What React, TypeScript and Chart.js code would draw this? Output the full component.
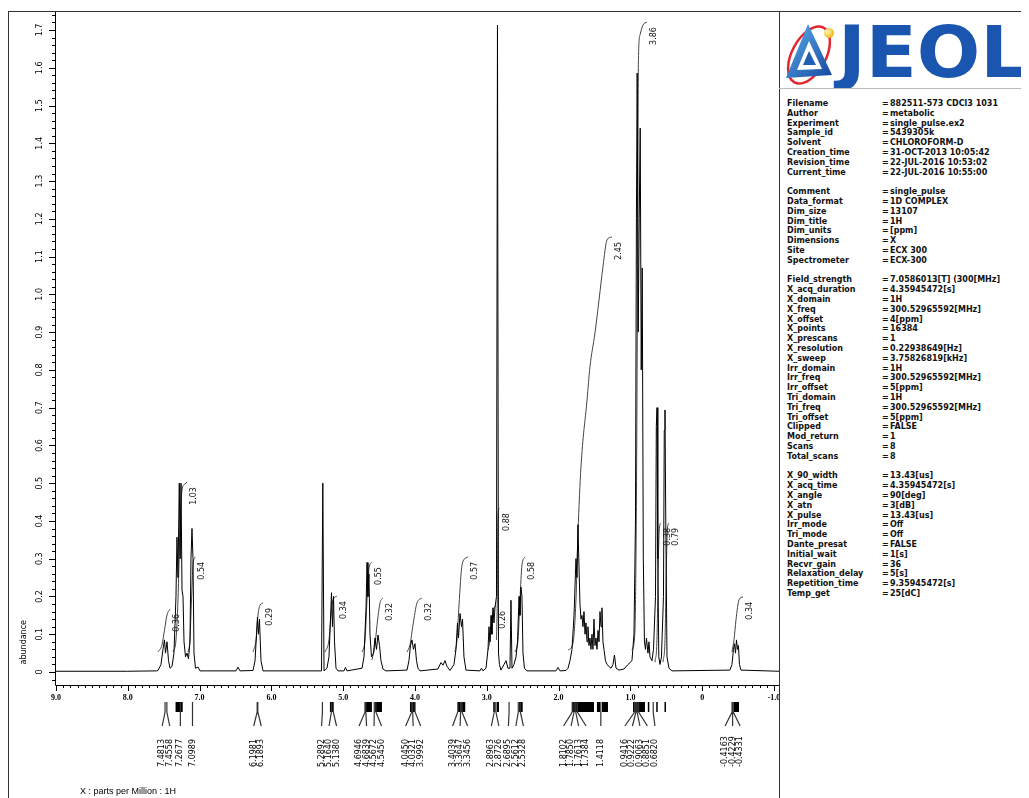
import React, { useEffect, useRef } from 'react';
import { Chart, registerables } from 'chart.js';

Chart.register(...registerables);

// ---------- axis ticks ----------
const xTickValues = [9, 8, 7, 6, 5, 4, 3, 2, 1, 0, -1];
const xTickLabels = ['9.0', '8.0', '7.0', '6.0', '5.0', '4.0', '3.0', '2.0', '1.0', '0', '-1.0'];
const yTickValues = [0, 0.1, 0.2, 0.3, 0.4, 0.5, 0.6, 0.7, 0.8, 0.9, 1.0, 1.1, 1.2, 1.3, 1.4, 1.5, 1.6, 1.7];
const yTickLabels = ['0', '0.1', '0.2', '0.3', '0.4', '0.5', '0.6', '0.7', '0.8', '0.9', '1.0', '1.1', '1.2', '1.3', '1.4', '1.5', '1.6', '1.7'];

// ---------- spectrum (ppm, abundance) ----------
const spectrumPpm = [
  9.01, 8.0, 7.6, 7.579, 7.538, 7.51, 7.489, 7.475, 7.454, 7.433, 7.412, 7.384, 7.357, 7.329, 7.315, 7.301, 7.283, 7.27, 7.259, 7.245, 7.231, 7.217, 7.196, 7.175, 7.155, 7.134, 7.12, 7.106, 7.092, 7.078, 7.057, 7.022, 6.994,
  6.493, 6.465, 6.437, 6.256, 6.228, 6.207, 6.194, 6.18, 6.166, 6.145, 6.117,
  5.302, 5.284, 5.267, 5.226, 5.198, 5.177, 5.163, 5.149, 5.135, 5.121, 5.1, 5.072, 4.989, 4.968, 4.947,
  4.738, 4.71, 4.682, 4.668, 4.655, 4.641, 4.627, 4.606, 4.578, 4.557, 4.536, 4.515, 4.494, 4.474, 4.446, 4.404,
  4.111, 4.084, 4.063, 4.042, 4.021, 4.0, 3.979, 3.958, 3.93,
  3.68, 3.638, 3.61, 3.582, 3.554, 3.512, 3.457, 3.429, 3.408, 3.394, 3.373, 3.352, 3.338, 3.318, 3.29,
  3.095, 3.074, 3.053, 3.011, 2.983, 2.969, 2.955, 2.941, 2.928, 2.914, 2.9, 2.886, 2.865, 2.851, 2.837, 2.824, 2.803,
  2.76, 2.732, 2.705, 2.677, 2.663, 2.649, 2.621, 2.593, 2.572, 2.551, 2.538, 2.524, 2.51, 2.496, 2.475, 2.44,
  2.036, 2.008, 1.98, 1.897, 1.869, 1.841, 1.813, 1.785, 1.758, 1.744, 1.73, 1.716, 1.702, 1.688, 1.674, 1.66, 1.646, 1.632, 1.618, 1.604, 1.591, 1.577, 1.563, 1.549, 1.535, 1.521, 1.507, 1.493, 1.479, 1.465, 1.451, 1.437, 1.423, 1.409, 1.396, 1.382, 1.368, 1.347, 1.326, 1.298, 1.27, 1.242, 1.222, 1.2, 1.158, 1.089, 1.033,
  0.978, 0.95, 0.929, 0.916, 0.905, 0.891, 0.877, 0.863, 0.849, 0.835, 0.82, 0.804, 0.79, 0.776, 0.755, 0.741, 0.727, 0.699, 0.678,
  0.65, 0.639, 0.629, 0.618, 0.604, 0.588, 0.567, 0.539, 0.528, 0.518, 0.507, 0.49, 0.462, 0.421,
  -0.387, -0.415, -0.436, -0.45, -0.464, -0.478, -0.492, -0.505, -0.519, -0.54, -1.07,
];
const spectrumAbundance = [
  0.002, 0.002, 0.003, 0.004, 0.02, 0.06, 0.085, 0.05, 0.08, 0.03, 0.01, 0.015, 0.05, 0.2, 0.357, 0.25, 0.5, 0.3, 0.5, 0.217, 0.2, 0.08, 0.04, 0.05, 0.035, 0.08, 0.3, 0.38, 0.3, 0.05, 0.01, 0.013, 0.003,
  0.003, 0.013, 0.003, 0.004, 0.03, 0.1, 0.145, 0.1, 0.14, 0.03, 0.003,
  0.003, 0.5, 0.003, 0.01, 0.04, 0.14, 0.21, 0.12, 0.2, 0.08, 0.01, 0.003, 0.003, 0.012, 0.003,
  0.01, 0.04, 0.17, 0.29, 0.2, 0.26, 0.1, 0.04, 0.05, 0.09, 0.06, 0.098, 0.07, 0.03, 0.008, 0.003,
  0.005, 0.03, 0.07, 0.085, 0.06, 0.075, 0.03, 0.01, 0.003,
  0.008, 0.025, 0.018, 0.03, 0.015, 0.004, 0.02, 0.06, 0.13, 0.09, 0.155, 0.12, 0.14, 0.04, 0.005,
  0.003, 0.01, 0.003, 0.01, 0.06, 0.12, 0.08, 0.15, 0.1, 0.17, 0.13, 0.17, 0.2, 1.713, 0.05, 0.02, 0.005,
  0.02, 0.03, 0.01, 0.01, 0.19, 0.01, 0.02, 0.04, 0.08, 0.2, 0.15, 0.225, 0.2, 0.05, 0.01, 0.003,
  0.003, 0.012, 0.003, 0.004, 0.01, 0.03, 0.06, 0.15, 0.3, 0.25, 0.39, 0.28, 0.18, 0.14, 0.15, 0.12, 0.16, 0.1, 0.13, 0.08, 0.12, 0.07, 0.09, 0.06, 0.1, 0.06, 0.14, 0.07, 0.09, 0.06, 0.11, 0.08, 0.16, 0.12, 0.17, 0.08, 0.06, 0.03, 0.02, 0.015, 0.01, 0.02, 0.045, 0.01, 0.005, 0.008, 0.02,
  0.03, 0.1, 0.4, 1.2, 1.586, 0.9, 1.2, 1.44, 0.8, 1.07, 0.3, 0.08, 0.06, 0.09, 0.05, 0.08, 0.04, 0.03, 0.06,
  0.2, 0.65, 0.7, 0.3, 0.04, 0.02, 0.04, 0.2, 0.64, 0.694, 0.4, 0.04, 0.01, 0.003,
  0.005, 0.02, 0.06, 0.075, 0.05, 0.085, 0.06, 0.07, 0.02, 0.005, 0.002,
];

// ---------- integral curves ----------
const integralLabels = ['0.36', '1.03', '0.54', '0.29', '0.34', '0.55', '0.32', '0.32', '0.57', '0.26', '0.88', '0.58', '2.45', '3.86', '0.38', '0.79', '0.34'];
const integralPpm = [
  [7.579, 7.524, 7.489, 7.454, 7.412],
  [7.37, 7.329, 7.301, 7.273, 7.245, 7.203, 7.175],
  [7.162, 7.134, 7.113, 7.092, 7.064],
  [6.256, 6.214, 6.187, 6.159, 6.117],
  [5.253, 5.198, 5.17, 5.142, 5.086],
  [4.738, 4.696, 4.668, 4.64, 4.599],
  [4.599, 4.557, 4.529, 4.487, 4.446],
  [4.111, 4.07, 4.028, 3.972, 3.903],
  [3.443, 3.415, 3.387, 3.345, 3.29, 3.262],
  [2.983, 2.955, 2.928, 2.9, 2.872],
  [2.865, 2.854, 2.847, 2.84, 2.824],
  [2.607, 2.565, 2.538, 2.51, 2.468],
  [1.869, 1.799, 1.758, 1.73, 1.688, 1.604, 1.563, 1.493, 1.437, 1.382, 1.326, 1.256],
  [0.978, 0.936, 0.916, 0.902, 0.894, 0.888, 0.866, 0.825, 0.769],
  [0.657, 0.63, 0.61, 0.596, 0.574],
  [0.546, 0.518, 0.497, 0.483, 0.462],
  [-0.415, -0.443, -0.471, -0.513, -0.568],
];
const integralValue = [
  [0.053, 0.072, 0.111, 0.151, 0.167],
  [0.053, 0.085, 0.191, 0.376, 0.482, 0.498, 0.503],
  [0.053, 0.085, 0.191, 0.283, 0.305],
  [0.053, 0.085, 0.151, 0.177, 0.183],
  [0.053, 0.085, 0.151, 0.191, 0.201],
  [0.053, 0.085, 0.191, 0.275, 0.291],
  [0.032, 0.072, 0.124, 0.183, 0.196],
  [0.053, 0.072, 0.124, 0.183, 0.196],
  [0.053, 0.085, 0.177, 0.283, 0.302, 0.305],
  [0.058, 0.085, 0.138, 0.169, 0.175],
  [0.085, 0.191, 0.376, 0.424, 0.434],
  [0.053, 0.085, 0.191, 0.283, 0.305],
  [0.058, 0.077, 0.191, 0.368, 0.543, 0.72, 0.808, 0.898, 0.985, 1.073, 1.144, 1.152],
  [0.058, 0.111, 0.455, 0.985, 1.382, 1.621, 1.687, 1.713, 1.721],
  [0.026, 0.085, 0.297, 0.381, 0.395],
  [0.026, 0.085, 0.297, 0.381, 0.395],
  [0.053, 0.085, 0.138, 0.191, 0.199],
];

// ---------- picked peaks ----------
const peakPpm = [
  7.4813, 7.4558, 7.2677, 7.0989, 6.1981, 6.1893, 5.2892, 5.164, 5.138,
  4.6946, 4.6839, 4.5672, 4.545, 4.045, 4.0321, 3.9992, 3.4039, 3.3647, 3.3456,
  2.8963, 2.8726, 2.6895, 2.5612, 2.5328, 1.8102, 1.785, 1.7613, 1.7384, 1.4118,
  0.9416, 0.9222, 0.9063, 0.8851, 0.682, -0.4163, -0.4229, -0.4331,
];
const markerFrom = [7.335, 5.185, 4.70, 4.56, 4.07, 3.40, 2.91, 2.86, 2.55, 1.813, 1.466, 1.396, 0.963, 0.757, 0.64, 0.525, -0.443];
const markerTo = [7.235, 5.14, 4.60, 4.46, 4.00, 3.30, 2.88, 2.83, 2.50, 1.507, 1.423, 1.312, 0.797, 0.745, 0.625, 0.51, -0.513];

// ---------- parameter panel ----------
const paramKeys = [
  'Filename', 'Author', 'Experiment', 'Sample_id', 'Solvent', 'Creation_time', 'Revision_time', 'Current_time', '',
  'Comment', 'Data_format', 'Dim_size', 'Dim_title', 'Dim_units', 'Dimensions', 'Site', 'Spectrometer', '',
  'Field_strength', 'X_acq_duration', 'X_domain', 'X_freq', 'X_offset', 'X_points', 'X_prescans', 'X_resolution', 'X_sweep',
  'Irr_domain', 'Irr_freq', 'Irr_offset', 'Tri_domain', 'Tri_freq', 'Tri_offset', 'Clipped', 'Mod_return', 'Scans', 'Total_scans', '',
  'X_90_width', 'X_acq_time', 'X_angle', 'X_atn', 'X_pulse', 'Irr_mode', 'Tri_mode', 'Dante_presat', 'Initial_wait', 'Recvr_gain',
  'Relaxation_delay', 'Repetition_time', 'Temp_get',
];
const paramValues = [
  '882511-573 CDCl3 1031', 'metabolic', 'single_pulse.ex2', '5439305k', 'CHLOROFORM-D', '31-OCT-2013 10:05:42', '22-JUL-2016 10:53:02', '22-JUL-2016 10:55:00', '',
  'single_pulse', '1D COMPLEX', '13107', '1H', '[ppm]', 'X', 'ECX 300', 'ECX-300', '',
  '7.0586013[T] (300[MHz]', '4.35945472[s]', '1H', '300.52965592[MHz]', '4[ppm]', '16384', '1', '0.22938649[Hz]', '3.75826819[kHz]',
  '1H', '300.52965592[MHz]', '5[ppm]', '1H', '300.52965592[MHz]', '5[ppm]', 'FALSE', '1', '8', '8', '',
  '13.43[us]', '4.35945472[s]', '90[deg]', '3[dB]', '13.43[us]', 'Off', 'Off', 'FALSE', '1[s]', '36',
  '5[s]', '9.35945472[s]', '25[dC]',
];

const FONT = '"DejaVu Sans", sans-serif';

function layoutLabels(ideal: number[], gap: number): number[] {
  const blocks: { count: number; sumAdj: number }[] = [];
  ideal.forEach((p) => {
    blocks.push({ count: 1, sumAdj: p });
    while (blocks.length > 1) {
      const b = blocks[blocks.length - 1];
      const a = blocks[blocks.length - 2];
      const aStart = a.sumAdj / a.count;
      const aEnd = aStart + (a.count - 1) * gap;
      const bStart = b.sumAdj / b.count;
      if (bStart - aEnd < gap) {
        const merged = { count: a.count + b.count, sumAdj: a.sumAdj + b.sumAdj - a.count * gap * b.count };
        blocks.splice(blocks.length - 2, 2, merged);
      } else break;
    }
  });
  const out: number[] = [];
  blocks.forEach((bl) => {
    const s = bl.sumAdj / bl.count;
    for (let k = 0; k < bl.count; k++) out.push(s + k * gap);
  });
  return out;
}

const decorPlugin = {
  id: 'nmrDecor',
  afterDatasetsDraw(chart: any) {
    const ctx = chart.ctx as CanvasRenderingContext2D;
    const xs = chart.scales.x;
    const ys = chart.scales.y;
    const { left, right, top, bottom } = chart.chartArea;
    ctx.save();
    ctx.strokeStyle = '#000';
    ctx.lineWidth = 1;
    ctx.beginPath();
    ctx.moveTo(left + 0.5, top);
    ctx.lineTo(left + 0.5, bottom + 0.5);
    ctx.lineTo(right, bottom + 0.5);
    ctx.stroke();

    // y ticks
    ctx.beginPath();
    for (let i = -1; i <= 87; i++) {
      const y = Math.round(ys.getPixelForValue(i * 0.02)) + 0.5;
      const len = i % 5 === 0 ? 6 : 3;
      ctx.moveTo(left, y);
      ctx.lineTo(left - len, y);
    }
    ctx.stroke();
    // x ticks
    ctx.beginPath();
    for (let i = -10; i <= 90; i++) {
      const x = Math.round(xs.getPixelForValue(i / 10)) + 0.5;
      const len = i % 10 === 0 ? 6 : 3;
      ctx.moveTo(x, bottom);
      ctx.lineTo(x, bottom + len);
    }
    ctx.stroke();

    ctx.fillStyle = '#000';
    ctx.font = `8px ${FONT}`;
    ctx.textAlign = 'center';
    ctx.textBaseline = 'middle';
    yTickValues.forEach((v, i) => {
      const y = ys.getPixelForValue(v);
      ctx.save();
      ctx.translate(left - 15, y);
      ctx.rotate(-Math.PI / 2);
      ctx.fillText(yTickLabels[i], 0, 0);
      ctx.restore();
    });
    ctx.font = `bold 8px "Liberation Serif", serif`;
    xTickValues.forEach((v, i) => {
      ctx.fillText(xTickLabels[i], xs.getPixelForValue(v), bottom + 13);
    });

    // axis titles
    ctx.font = `8px ${FONT}`;
    ctx.save();
    ctx.translate(15, ys.getPixelForValue(0.1) + 8);
    ctx.rotate(-Math.PI / 2);
    ctx.fillText('abundance', 0, 0);
    ctx.restore();
    ctx.textAlign = 'left';
    ctx.font = `9px "Liberation Sans", sans-serif`;
    ctx.fillText('X : parts per Million : 1H', 71, bottom + 107);

    // integral labels
    ctx.font = `8px ${FONT}`;
    ctx.fillStyle = '#111';
    integralLabels.forEach((t, i) => {
      const arr = integralPpm[i];
      const n = arr.length - 1;
      const x = xs.getPixelForValue(arr[n]) + 7;
      const y = ys.getPixelForValue(integralValue[i][n]) + 5;
      const w = ctx.measureText(t).width;
      ctx.save();
      ctx.translate(x, y + w);
      ctx.rotate(-Math.PI / 2);
      ctx.textAlign = 'left';
      ctx.fillText(t, 0, 0);
      ctx.restore();
    });

    // peak markers
    ctx.fillStyle = '#000';
    markerFrom.forEach((f, i) => {
      const a = xs.getPixelForValue(f);
      const b = xs.getPixelForValue(markerTo[i]);
      ctx.fillRect(Math.min(a, b), bottom + 17, Math.max(Math.abs(b - a), 1.5), 10);
    });
    const px = peakPpm.map((p) => xs.getPixelForValue(p));
    const lx = layoutLabels(px, 7.5);
    ctx.strokeStyle = '#333';
    ctx.lineWidth = 1.2;
    ctx.beginPath();
    px.forEach((p, i) => {
      ctx.moveTo(p, bottom + 17);
      ctx.lineTo(p, bottom + 27);
      ctx.lineTo(lx[i], bottom + 41);
    });
    ctx.stroke();
    ctx.fillStyle = '#000';
    ctx.font = `8px ${FONT}`;
    ctx.textAlign = 'left';
    peakPpm.forEach((p, i) => {
      ctx.save();
      ctx.translate(lx[i], bottom + 82);
      ctx.rotate(-Math.PI / 2);
      ctx.fillText(p.toFixed(4), 0, 0);
      ctx.restore();
    });
    ctx.restore();
  },
};

export default function App() {
  const ref = useRef<HTMLCanvasElement>(null);
  useEffect(() => {
    const spectrum = spectrumPpm.map((x, i) => ({ x, y: spectrumAbundance[i] }));
    const datasets: any[] = [
      {
        data: spectrum,
        borderColor: '#000',
        borderWidth: 1,
        pointRadius: 0,
        tension: 0,
      },
    ];
    integralPpm.forEach((arr, k) => {
      datasets.push({
        data: arr.map((x, i) => ({ x, y: integralValue[k][i] })),
        borderColor: '#444',
        borderWidth: 1,
        pointRadius: 0,
        cubicInterpolationMode: 'monotone',
      });
    });
    const chart = new Chart(ref.current as HTMLCanvasElement, {
      type: 'line',
      data: { datasets },
      options: {
        responsive: false,
        animation: false,
        devicePixelRatio: 1,
        layout: { padding: { left: 46, top: 0, right: 0, bottom: 113 } },
        plugins: { legend: { display: false }, tooltip: { enabled: false } },
        events: [],
        scales: {
          x: { type: 'linear', min: -1.07, max: 9.014, reverse: true, display: false },
          y: { type: 'linear', min: -0.0344, max: 1.7477, display: false },
        },
      },
      plugins: [decorPlugin],
    } as any);
    return () => chart.destroy();
  }, []);

  const line = (style: any) => <div style={{ position: 'absolute', background: '#333', ...style }} />;

  return (
    <div style={{ position: 'relative', width: 1021, height: 790, overflow: 'hidden', background: '#fff' }}>
      <canvas ref={ref} width={770} height={786} style={{ position: 'absolute', left: 1, top: 4, width: 770, height: 786 }} />
      {line({ left: 0, top: 3, width: 1021, height: 1 })}
      {line({ left: 0, top: 3, width: 1, height: 787 })}
      {line({ left: 771, top: 3, width: 1, height: 787 })}
      {line({ left: 771, top: 80, width: 250, height: 1, background: '#bbb' })}
      <svg width={249} height={76} style={{ position: 'absolute', left: 772, top: 4 }}>
        <defs>
          <linearGradient id="tri" x1="0" y1="0" x2="1" y2="1">
            <stop offset="0" stopColor="#5bb2ec" />
            <stop offset="1" stopColor="#1646a0" />
          </linearGradient>
          <radialGradient id="ball" cx="0.35" cy="0.35" r="0.7">
            <stop offset="0" stopColor="#fff7c0" />
            <stop offset="1" stopColor="#f0b400" />
          </radialGradient>
        </defs>
        <ellipse cx={29} cy={43} rx={17} ry={31} transform="rotate(28 29 43)" fill="none" stroke="#e3262d" strokeWidth={2.5} />
        <polygon points="28,12 6,66 52,63" fill="url(#tri)" />
        <polygon points="29,29 17,58 42,57" fill="#fff" />
        <polygon points="29,39 23,53 36,53" fill="#1f5fb5" />
        <circle cx={49} cy={21} r={5} fill="url(#ball)" />
        <text x={58} y={65} fontFamily={FONT} fontWeight={900} fontSize={71} fill="#1a56b0" textLength={190} lengthAdjust="spacingAndGlyphs">JEOL</text>
      </svg>
      <div style={{ position: 'absolute', left: 779, top: 91.1, width: 242, fontFamily: FONT, fontWeight: 'bold', fontSize: 8, color: '#111' }}>
        {paramKeys.map((k, i) => (
          <div key={i} style={{ position: 'relative', height: 9.8, lineHeight: '9.8px', whiteSpace: 'pre' }}>
            {k ? (
              <>
                <span style={{ position: 'absolute', left: 0 }}>{k}</span>
                <span style={{ position: 'absolute', left: 95 }}>=</span>
                <span style={{ position: 'absolute', left: 103 }}>{paramValues[i]}</span>
              </>
            ) : null}
          </div>
        ))}
      </div>
    </div>
  );
}
